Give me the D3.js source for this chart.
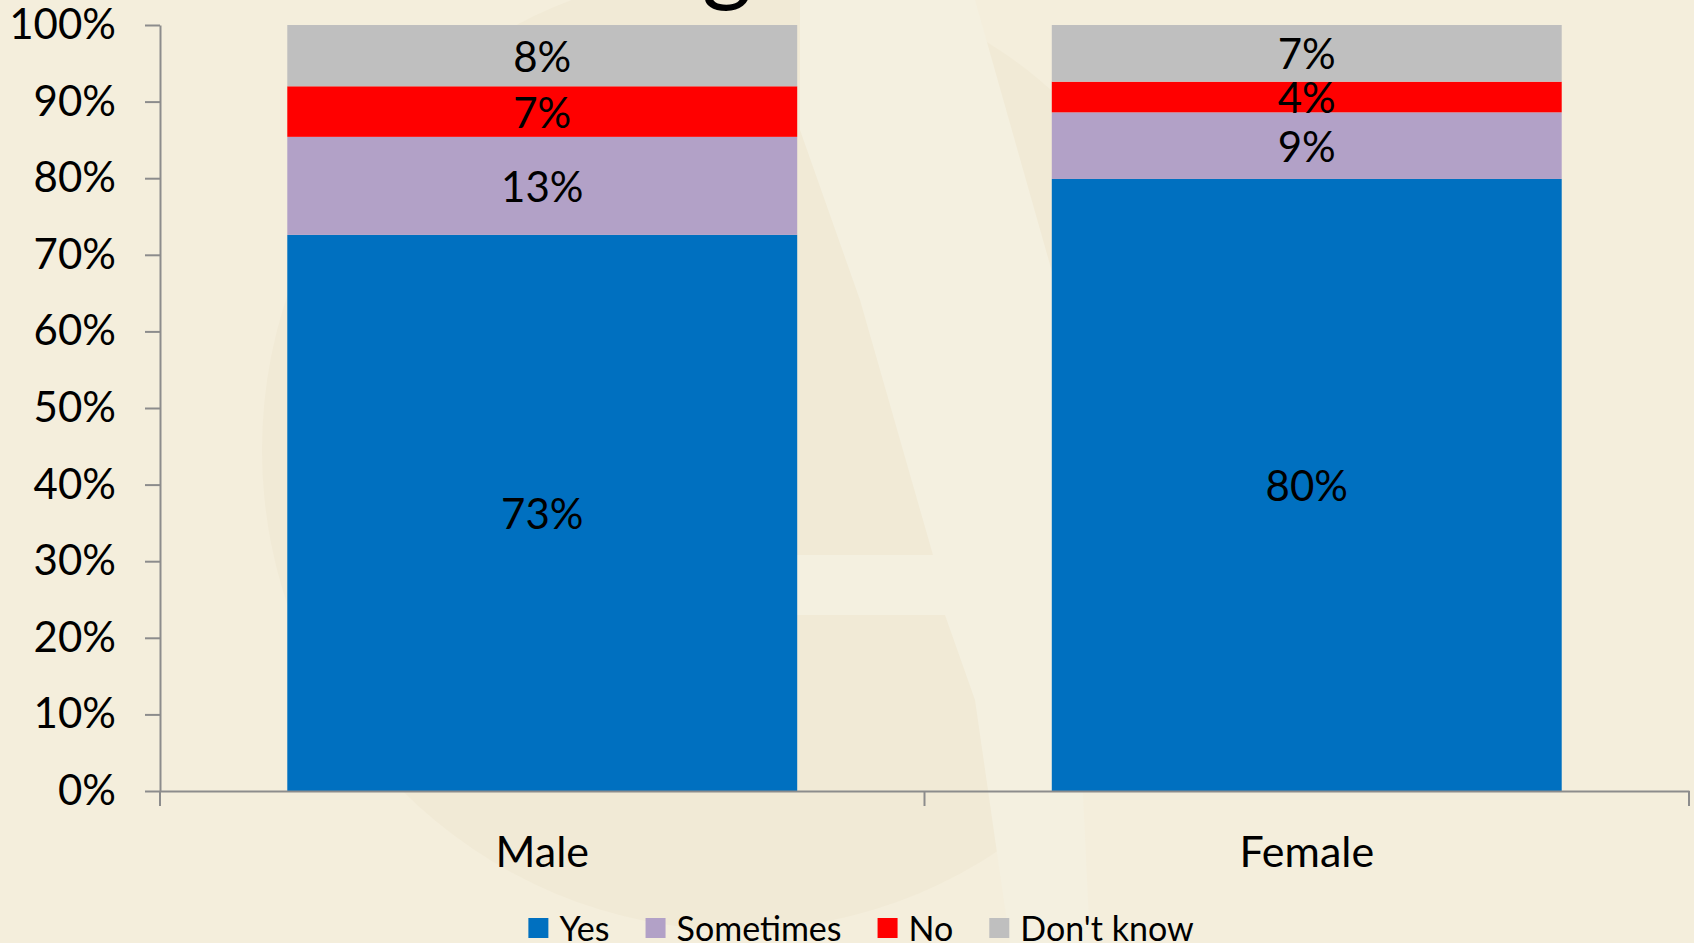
<!DOCTYPE html>
<html>
<head>
<meta charset="utf-8">
<script src="https://cdn.jsdelivr.net/npm/d3@7"></script>
<style>
  html, body { margin: 0; padding: 0; background: #F4EEDC; overflow: hidden; }
  svg { display: block; }
  text { font-family: Lato, "Open Sans", sans-serif; fill: #000; }
</style>
</head>
<body>
<svg id="chart" width="1694" height="943"></svg>
<script>
// ---- data ----
const categories = ["Male", "Female"];
const seriesNames = ["Yes", "Sometimes", "No", "Don't know"];
const yesValues = [72.6, 79.9];
const sometimesValues = [12.8, 8.7];
const noValues = [6.6, 4.0];
const dontKnowValues = [8.0, 7.4];
const yTickValues = [0, 10, 20, 30, 40, 50, 60, 70, 80, 90, 100];
const titleFragment = "g";

// ---- setup ----
const W = 1694, H = 943;
const svg = d3.select("#chart");
const margin = { left: 160, right: 5, top: 25, bottom: 152 };

const rows = categories.map((c, i) => ({
  category: c,
  "Yes": yesValues[i],
  "Sometimes": sometimesValues[i],
  "No": noValues[i],
  "Don't know": dontKnowValues[i]
}));

const color = d3.scaleOrdinal()
  .domain(seriesNames)
  .range(["#0070C0", "#B2A1C7", "#FF0000", "#BFBFBF"]);

// ---- background watermark (subtle) ----
const bg = svg.append("g");
bg.append("rect").attr("width", W).attr("height", H).attr("fill", "#F4EEDC");
bg.append("ellipse").attr("cx", 737).attr("cy", 450).attr("rx", 475).attr("ry", 480)
  .attr("fill", "#F1EAD6");
bg.append("polygon")
  .attr("points", "800,0 975,0 1060,300 1090,943 1010,943 975,700 945,615 790,615 790,555 933,555 860,300 800,130")
  .attr("fill", "#F4F0E0");

// ---- title fragment (cut off above the view) ----
svg.append("text")
  .attr("x", 727).attr("y", -7)
  .attr("text-anchor", "middle")
  .style("font-size", "96px")
  .text(titleFragment);

// ---- scales ----
const x = d3.scaleBand()
  .domain(categories)
  .range([margin.left, W - margin.right])
  .paddingInner(0.333)
  .paddingOuter(0.1665);

const y = d3.scaleLinear()
  .domain([0, 100])
  .range([H - margin.bottom, margin.top]);

// ---- bars ----
const stack = d3.stack().keys(seriesNames);
const stacked = stack(rows);

const layers = svg.append("g").selectAll("g.layer")
  .data(stacked).enter().append("g")
  .attr("class", "layer")
  .attr("fill", d => color(d.key));

layers.selectAll("rect")
  .data(d => d.map(p => ({ p, key: d.key })))
  .enter().append("rect")
  .attr("x", d => x(d.p.data.category))
  .attr("width", x.bandwidth())
  .attr("y", d => y(d.p[1]))
  .attr("height", d => y(d.p[0]) - y(d.p[1]));

// ---- data labels ----
layers.selectAll("text")
  .data(d => d.map(p => ({ p, key: d.key })))
  .enter().append("text")
  .attr("x", d => x(d.p.data.category) + x.bandwidth() / 2)
  .attr("y", d => (y(d.p[0]) + y(d.p[1])) / 2)
  .attr("dy", "0.38em")
  .attr("text-anchor", "middle")
  .style("font-size", "42px")
  .style("fill", "#000")
  .text(d => Math.round(d.p[1] - d.p[0]) + "%");

// ---- y axis ----
const yAxis = d3.axisLeft(y)
  .tickValues(yTickValues)
  .tickFormat(d => d + "%")
  .tickSize(15)
  .tickSizeOuter(0)
  .tickPadding(29);

const gy = svg.append("g")
  .attr("transform", `translate(${margin.left},0)`)
  .call(yAxis);
gy.select(".domain").attr("stroke", "#8C8C8C").attr("stroke-width", 2);
gy.selectAll(".tick line").attr("stroke", "#8C8C8C").attr("stroke-width", 2);
gy.selectAll(".tick text").style("font-size", "42px").style("font-family", "Lato, sans-serif").attr("fill", "#000");

// ---- x axis ----
const xAxis = d3.axisBottom(x).tickSize(0).tickSizeOuter(0).tickPadding(45);
const gx = svg.append("g")
  .attr("transform", `translate(0,${y(0)})`)
  .call(xAxis);
gx.select(".domain").attr("stroke", "#8C8C8C").attr("stroke-width", 2);
gx.selectAll(".tick text").style("font-size", "43px").style("font-family", "Lato, sans-serif").attr("fill", "#000");

// category boundary tick marks
const step = x.step();
const boundaries = d3.range(categories.length + 1).map(i => x.range()[0] + i * step);
gx.selectAll("line.bound").data(boundaries).enter().append("line")
  .attr("class", "bound")
  .attr("x1", d => d).attr("x2", d => d)
  .attr("y1", 0).attr("y2", 15)
  .attr("stroke", "#8C8C8C").attr("stroke-width", 2);

// ---- legend ----
const legend = svg.append("g").attr("class", "legend");
const items = legend.selectAll("g.item").data(seriesNames).enter().append("g").attr("class", "item");
items.append("rect").attr("width", 20).attr("height", 20).attr("y", 918)
  .attr("fill", d => color(d));
items.append("text").attr("x", 31).attr("y", 941)
  .style("font-size", "34px")
  .text(d => d);
let cursor = 0;
const offsets = [];
items.each(function () {
  const tw = d3.select(this).select("text").node().getComputedTextLength();
  offsets.push(cursor);
  cursor += 31 + tw + 36;
});
const totalW = cursor - 36;
const legendStart = 861 - totalW / 2;
items.attr("transform", (d, i) => `translate(${legendStart + offsets[i]},0)`);
</script>
</body>
</html>
